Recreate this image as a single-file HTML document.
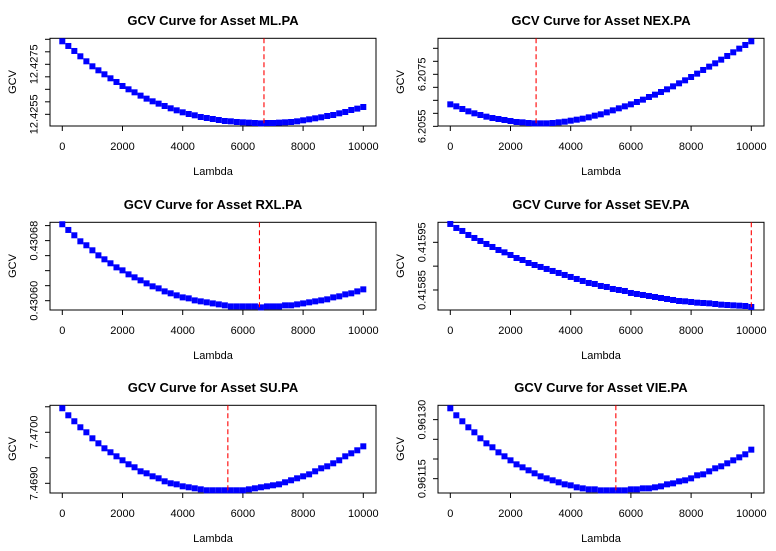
<!DOCTYPE html>
<html><head><meta charset="utf-8"><style>
html,body{margin:0;padding:0;background:#fff;}
svg{display:block;font-family:"Liberation Sans",Arial,sans-serif;}
</style></head><body>
<svg id="chart" width="776" height="551" viewBox="0 0 776 551" xmlns="http://www.w3.org/2000/svg"></svg>
<script>
const lambdas = [];
for (let i = 0; i <= 50; i++) lambdas.push(i * 200);
const xTicks = [0, 2000, 4000, 6000, 8000, 10000];
const assetNames = ["ML.PA", "NEX.PA", "RXL.PA", "SEV.PA", "SU.PA", "VIE.PA"];
const optimalLambda = [6700, 2850, 6550, 10000, 5500, 5500];
const yRanges = [[12.425033, 12.428540],[6.205513, 6.208885],[0.4305876, 0.4307044],[0.4158080, 0.4159920],[7.468810, 7.470529],[0.9611136, 0.9613364]];
const yTicks = [[12.4255,12.4260,12.4265,12.4270,12.4275,12.4280,12.4285],[6.2055,6.2060,6.2065,6.2070,6.2075,6.2080,6.2085],[0.43060,0.43062,0.43064,0.43066,0.43068,0.43070],[0.41585,0.41590,0.41595],[7.4690,7.4695,7.4700,7.4705],[0.96115,0.96120,0.96125,0.96130]];
const yTickLabels = [["12.4255","","","","12.4275","",""],["6.2055","","","","6.2075","",""],["0.43060","","","","0.43068",""],["0.41585","","0.41595"],["7.4690","","7.4700",""],["0.96115","","","0.96130"]];
const gcvML = [12.428420,12.428233,12.428033,12.427820,12.427620,12.427420,12.427260,12.427100,12.426940,12.426793,12.426633,12.426500,12.426380,12.426247,12.426127,12.426020,12.425927,12.425833,12.425740,12.425660,12.425580,12.425513,12.425460,12.425393,12.425353,12.425313,12.425273,12.425233,12.425220,12.425193,12.425180,12.425167,12.425153,12.425140,12.425153,12.425153,12.425167,12.425180,12.425193,12.425220,12.425260,12.425300,12.425340,12.425380,12.425433,12.425473,12.425540,12.425593,12.425673,12.425727,12.425793];
const gcvNEX = [6.206346,6.206269,6.206167,6.206077,6.206000,6.205936,6.205872,6.205820,6.205782,6.205744,6.205705,6.205667,6.205654,6.205628,6.205615,6.205615,6.205615,6.205628,6.205654,6.205679,6.205718,6.205756,6.205795,6.205846,6.205910,6.205962,6.206038,6.206115,6.206192,6.206269,6.206346,6.206436,6.206526,6.206628,6.206718,6.206820,6.206923,6.207038,6.207154,6.207269,6.207397,6.207526,6.207667,6.207795,6.207923,6.208064,6.208205,6.208346,6.208487,6.208628,6.208769];
const gcvRXL = [0.4307018,0.4306942,0.4306871,0.4306791,0.4306738,0.4306671,0.4306604,0.4306551,0.4306498,0.4306444,0.4306404,0.4306351,0.4306311,0.4306271,0.4306231,0.4306191,0.4306164,0.4306124,0.4306098,0.4306071,0.4306044,0.4306031,0.4306004,0.4305991,0.4305978,0.4305964,0.4305951,0.4305938,0.4305924,0.4305924,0.4305924,0.4305924,0.4305924,0.4305911,0.4305924,0.4305924,0.4305924,0.4305938,0.4305938,0.4305951,0.4305964,0.4305978,0.4305991,0.4306004,0.4306018,0.4306044,0.4306058,0.4306084,0.4306098,0.4306124,0.4306151];
const gcvSEV = [0.4159885,0.4159801,0.4159738,0.4159654,0.4159591,0.4159528,0.4159465,0.4159402,0.4159339,0.4159290,0.4159234,0.4159171,0.4159129,0.4159066,0.4159024,0.4158983,0.4158941,0.4158899,0.4158857,0.4158815,0.4158773,0.4158731,0.4158689,0.4158647,0.4158626,0.4158584,0.4158563,0.4158521,0.4158500,0.4158479,0.4158437,0.4158416,0.4158395,0.4158374,0.4158353,0.4158332,0.4158311,0.4158290,0.4158269,0.4158262,0.4158248,0.4158234,0.4158227,0.4158220,0.4158206,0.4158192,0.4158185,0.4158178,0.4158171,0.4158164,0.4158143];
const gcvSU = [7.470471,7.470333,7.470216,7.470098,7.470000,7.469882,7.469784,7.469686,7.469608,7.469529,7.469451,7.469373,7.469314,7.469235,7.469196,7.469137,7.469098,7.469039,7.469000,7.468980,7.468941,7.468922,7.468902,7.468882,7.468863,7.468863,7.468863,7.468863,7.468863,7.468863,7.468863,7.468882,7.468902,7.468922,7.468941,7.468961,7.468980,7.469020,7.469059,7.469098,7.469137,7.469176,7.469235,7.469294,7.469333,7.469392,7.469451,7.469529,7.469588,7.469647,7.469725];
const gcvVIE = [0.9613288,0.9613110,0.9612958,0.9612805,0.9612678,0.9612525,0.9612398,0.9612297,0.9612169,0.9612068,0.9611966,0.9611864,0.9611788,0.9611712,0.9611636,0.9611559,0.9611508,0.9611458,0.9611407,0.9611356,0.9611330,0.9611280,0.9611254,0.9611229,0.9611229,0.9611203,0.9611203,0.9611203,0.9611203,0.9611203,0.9611229,0.9611229,0.9611254,0.9611254,0.9611280,0.9611305,0.9611356,0.9611381,0.9611432,0.9611458,0.9611508,0.9611585,0.9611610,0.9611686,0.9611763,0.9611814,0.9611890,0.9611966,0.9612042,0.9612119,0.9612237];
const allSeries = [gcvML, gcvNEX, gcvRXL, gcvSEV, gcvSU, gcvVIE];

const NS = "http://www.w3.org/2000/svg";
const svg = document.getElementById("chart");
function mk(tag, attrs, parent) {
  const e = document.createElementNS(NS, tag);
  for (const k in attrs) e.setAttribute(k, attrs[k]);
  parent.appendChild(e);
  return e;
}
const offsets = [[0,0],[388,0],[0,184],[388,184],[0,367],[388,367]];
const BX0 = 50, BX1 = 376, BY0 = 38.3, BY1 = 126;
const XL = 62.3, XR = 363.3;

for (let p = 0; p < 6; p++) {
  const [ox, oy] = offsets[p];
  const g = mk("g", {transform: `translate(${ox},${oy})`}, svg);
  
  
  const [ylo, yhi] = yRanges[p];
  const xs = v => XL + (v / 10000) * (XR - XL);
  const ys = v => BY1 - (v - ylo) / (yhi - ylo) * (BY1 - BY0);

  const t = mk("text", {x: 213, y: 25, "text-anchor": "middle", "font-size": "13", "font-weight": "bold", fill: "#000"}, g);
  t.textContent = "GCV Curve for Asset " + assetNames[p];
  
  

  const box = mk("rect", {x: BX0, y: BY0, width: BX1 - BX0, height: BY1 - BY0, fill: "none", stroke: "#000", "stroke-width": 1}, g);
  
  

  const xa = mk("g", {}, g);
  
  
  mk("line", {x1: xs(xTicks[0]), x2: xs(xTicks[xTicks.length-1]), y1: BY1, y2: BY1, stroke: "#000"}, xa);
  xTicks.forEach(v => {
    mk("line", {x1: xs(v), x2: xs(v), y1: BY1, y2: BY1 + 5, stroke: "#000"}, xa);
    const tl = mk("text", {x: xs(v), y: 150, "text-anchor": "middle", "font-size": "11"}, xa);
    tl.textContent = String(v);
    
    
  });
  const xt = mk("text", {x: 213, y: 175, "text-anchor": "middle", "font-size": "11"}, g);
  xt.textContent = "Lambda";
  
  

  const ya = mk("g", {}, g);
  
  
  const tks = yTicks[p];
  mk("line", {x1: BX0, x2: BX0, y1: ys(tks[0]), y2: ys(tks[tks.length-1]), stroke: "#000"}, ya);
  tks.forEach((v, i) => {
    const y = ys(v);
    mk("line", {x1: BX0 - 5, x2: BX0, y1: y, y2: y, stroke: "#000"}, ya);
    if (yTickLabels[p][i]) {
      const tl = mk("text", {x: 0, y: 0, "text-anchor": "middle", "font-size": "11", transform: `translate(37.5,${y}) rotate(-90)`}, ya);
      tl.textContent = yTickLabels[p][i];
      
      
    }
  });
  const yt = mk("text", {x: 0, y: 0, "text-anchor": "middle", "font-size": "11", transform: `translate(16,82) rotate(-90)`}, g);
  yt.textContent = "GCV";
  
  

  const pts = mk("g", {}, g);
  
  
  allSeries[p].forEach((v, i) => {
    const r = mk("rect", {x: xs(lambdas[i]) - 3, y: ys(v) - 3, width: 6, height: 6, fill: "#0000ff"}, pts);
    
    
  });

  const vl = mk("line", {x1: xs(optimalLambda[p]), x2: xs(optimalLambda[p]), y1: BY0, y2: BY1, stroke: "#ff0000", "stroke-width": 1.1, "stroke-dasharray": "5,3"}, g);
  
  
}
</script>
</body></html>
